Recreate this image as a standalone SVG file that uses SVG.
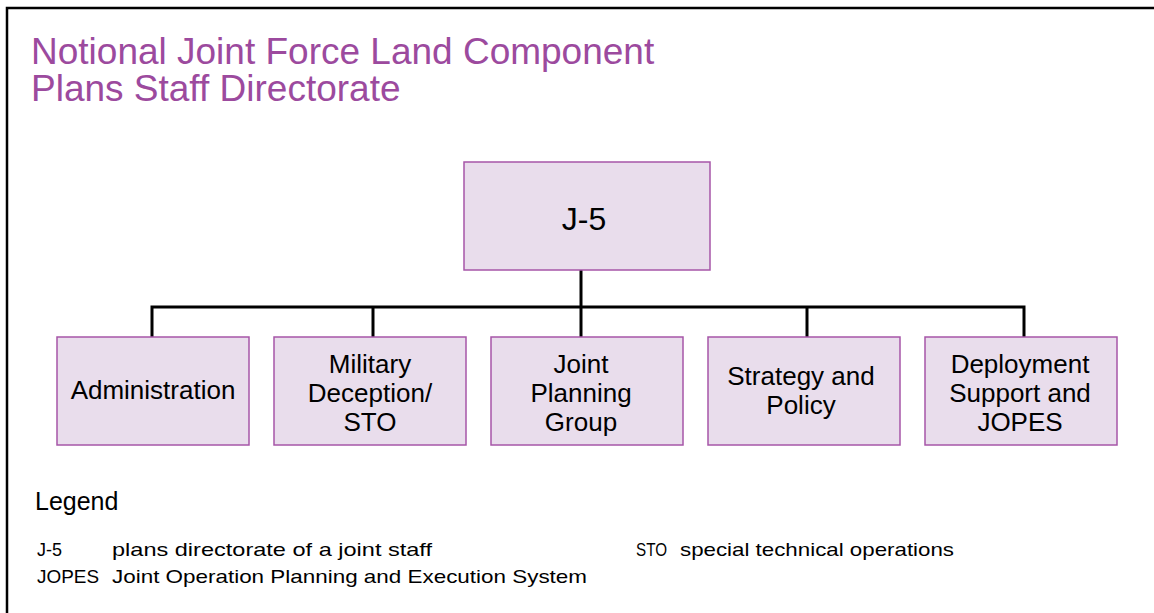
<svg xmlns="http://www.w3.org/2000/svg" width="1154" height="613" viewBox="0 0 1154 613">
<style>
.box{fill:#E9DDEC;stroke:#A656A8;stroke-width:1.5}
.t{font-family:"Liberation Sans",Arial,sans-serif;fill:#000}
.nt{font-size:26px;text-anchor:middle}
.title{font-family:"Liberation Sans",Arial,sans-serif;fill:#9C4A9E;font-size:37px}
.lg{font-size:19px}
.conn{stroke:#000;stroke-width:3;fill:none}
</style>
<rect width="1154" height="613" fill="#fff"/>
<g id="frame"><path d="M7,613 V8 H1154" fill="none" stroke="#000" stroke-width="2.5"/></g>
<g id="title">
<text class="title" x="31" y="64">Notional Joint Force Land Component</text>
<text class="title" x="31" y="101">Plans Staff Directorate</text>
</g>
<g id="connectors">
<path class="conn" d="M581,270 V337"/>
<path class="conn" d="M152,337 V307 H1024 V337"/>
<path class="conn" d="M373,307 V337"/>
<path class="conn" d="M807,307 V337"/>
</g>
<g id="j5"><rect class="box" x="464" y="162" width="246" height="108"/><text class="t" x="584" y="230" font-size="32" text-anchor="middle">J-5</text></g>
<g id="admin"><rect class="box" x="57" y="337" width="192" height="108"/><text class="t nt" x="153" y="399">Administration</text></g>
<g id="milDec"><rect class="box" x="274" y="337" width="192" height="108"/><text class="t nt" x="370" y="373">Military</text><text class="t nt" x="370" y="402">Deception/</text><text class="t nt" x="370" y="431">STO</text></g>
<g id="jpg"><rect class="box" x="491" y="337" width="192" height="108"/><text class="t nt" x="581" y="373">Joint</text><text class="t nt" x="581" y="402">Planning</text><text class="t nt" x="581" y="431">Group</text></g>
<g id="strat"><rect class="box" x="708" y="337" width="192" height="108"/><text class="t nt" x="801" y="385">Strategy and</text><text class="t nt" x="801" y="414">Policy</text></g>
<g id="deploy"><rect class="box" x="925" y="337" width="192" height="108"/><text class="t nt" x="1020" y="373">Deployment</text><text class="t nt" x="1020" y="402">Support and</text><text class="t nt" x="1020" y="431">JOPES</text></g>
<g id="legend">
<text class="t" x="35" y="510" font-size="25">Legend</text>
<text class="t lg" x="37" y="556" textLength="25" lengthAdjust="spacingAndGlyphs">J-5</text>
<text class="t lg" x="112" y="556" textLength="320" lengthAdjust="spacingAndGlyphs">plans directorate of a joint staff</text>
<text class="t lg" x="636" y="556" textLength="31" lengthAdjust="spacingAndGlyphs">STO</text>
<text class="t lg" x="680" y="556" textLength="274" lengthAdjust="spacingAndGlyphs">special technical operations</text>
<text class="t lg" x="37" y="583" textLength="62" lengthAdjust="spacingAndGlyphs">JOPES</text>
<text class="t lg" x="112" y="583" textLength="475" lengthAdjust="spacingAndGlyphs">Joint Operation Planning and Execution System</text>
</g>
</svg>
